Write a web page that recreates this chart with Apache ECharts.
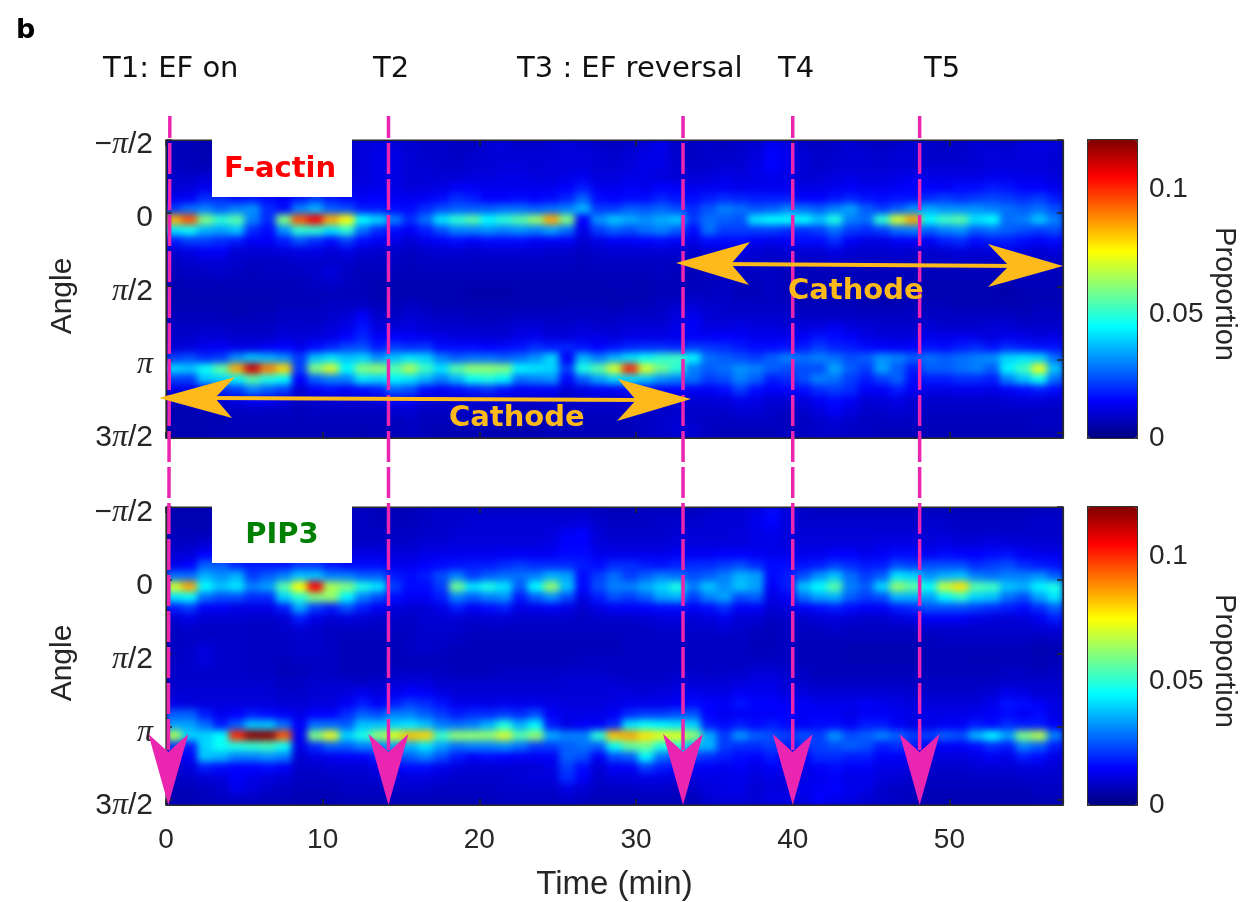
<!DOCTYPE html>
<html><head><meta charset="utf-8">
<style>
html,body{margin:0;padding:0;background:#fff}
#chart{width:1244px;height:902px}
#chart canvas:first-of-type{filter:blur(3.5px);clip-path:path('M166 140H1063V438H166Z M166 507H1063V805H166Z')}
</style>
<script src="https://cdn.jsdelivr.net/npm/echarts@6/dist/echarts.min.js"></script>
</head><body><div id="chart"></div>
<script>
// Heatmap values in thousandths of a proportion; rows run top to bottom, one column per ~minute.
const factinRows = [
[7,7,6,6,6,6,7,7,7,7,8,9,11,12,11,10,9,9,8,8,10,11,9,9,10,11,10,9,8,9,11,13,9,8,9,8,9,10,14,12,9,8,9,10,9,8,9,10,9,8,9,10,10,9,11,12,11],
[7,7,6,6,6,7,7,7,8,8,8,9,11,12,12,10,9,9,8,9,10,10,10,10,10,11,11,10,9,10,12,12,9,8,9,9,9,11,15,13,10,9,9,10,10,9,10,10,9,9,9,10,11,10,11,11,10],
[8,7,7,7,7,7,8,8,8,8,8,9,11,12,12,10,10,9,9,10,10,11,11,10,11,11,11,10,10,11,12,12,10,9,9,10,10,12,15,13,10,9,10,10,10,10,10,10,10,10,10,10,11,11,11,11,10],
[9,9,10,10,9,9,9,9,10,10,10,10,11,12,12,10,10,10,10,11,11,12,12,11,11,12,13,11,11,12,12,11,10,10,11,12,11,12,13,12,10,10,11,12,11,11,12,13,12,12,12,12,13,13,12,12,11],
[10,11,13,13,12,11,11,12,12,13,13,12,12,13,12,11,11,12,14,14,13,13,13,13,13,15,18,13,13,14,13,15,14,13,13,14,13,13,13,13,12,12,13,14,13,13,14,15,15,14,16,16,18,17,15,15,13],
[13,14,20,20,17,18,16,14,18,22,18,16,14,15,14,13,14,16,20,18,15,15,16,15,16,19,26,16,15,16,16,19,17,16,18,20,19,18,18,18,15,15,17,19,17,16,17,17,20,22,20,22,23,22,20,22,18],
[22,28,30,26,30,32,20,16,30,36,26,24,18,18,16,16,20,24,26,26,26,28,28,26,28,30,36,22,22,26,25,27,24,20,25,30,28,25,26,30,28,26,30,34,26,22,26,32,35,32,32,32,30,28,26,28,24],
[85,95,60,50,55,30,20,60,95,105,85,75,45,40,30,20,28,42,50,55,45,50,55,62,85,60,15,32,38,35,32,35,38,22,28,26,25,42,45,45,45,38,48,30,28,50,70,85,45,52,55,42,45,28,30,38,30],
[42,46,36,34,38,20,16,32,50,50,42,50,28,20,16,14,18,24,30,30,32,30,32,30,34,28,12,22,26,24,28,30,26,16,28,22,22,22,22,20,20,22,28,22,20,22,28,30,26,30,32,26,28,26,24,22,24],
[18,22,22,20,18,14,14,18,24,20,16,22,16,14,12,10,13,14,16,14,16,16,16,14,14,14,10,12,14,14,15,16,14,12,16,16,16,14,13,14,16,16,20,14,12,12,14,14,14,18,20,16,18,18,16,14,16],
[10,12,14,14,10,10,10,11,12,12,10,12,10,9,9,8,9,10,10,9,10,10,10,10,9,9,8,9,10,10,10,10,10,9,10,11,12,10,9,10,10,10,12,10,9,9,10,9,9,10,11,10,11,12,11,10,11],
[8,9,10,10,9,8,8,8,9,9,9,9,8,8,8,7,8,8,8,8,8,8,8,8,8,8,7,8,8,8,8,8,8,8,8,9,9,9,8,8,8,8,9,8,8,8,8,8,8,8,8,8,8,9,9,8,8],
[7,8,8,9,8,7,8,8,8,9,11,8,7,7,7,7,7,7,7,7,7,7,7,7,7,7,7,7,7,7,7,8,7,7,8,8,8,8,8,7,7,7,7,7,7,7,7,7,7,7,7,7,7,7,8,8,7],
[6,7,7,7,7,7,7,7,7,8,9,8,7,6,6,6,6,6,6,6,6,6,6,6,6,6,6,6,7,7,6,7,7,7,7,8,7,7,8,7,7,6,6,6,6,6,6,6,6,6,6,6,6,6,7,7,7],
[6,6,6,6,6,6,6,7,7,7,7,7,7,6,6,6,6,6,6,5,5,5,6,6,6,6,6,6,6,6,6,7,7,8,8,8,7,7,8,7,7,7,7,6,6,6,6,6,6,6,6,6,6,5,6,6,6],
[6,6,6,6,6,6,6,7,7,7,8,8,8,7,7,8,7,6,6,6,6,6,6,6,6,7,7,7,6,7,7,8,9,10,9,9,8,8,8,8,7,7,7,7,6,6,6,7,7,7,6,6,6,6,6,7,7],
[7,7,7,7,6,7,7,8,8,8,9,10,14,9,8,10,9,8,8,7,7,7,8,8,8,8,8,8,8,9,8,9,11,13,10,9,9,9,9,9,8,8,8,8,8,8,8,8,8,8,8,8,8,8,7,8,8],
[8,8,8,8,8,8,8,9,9,9,10,12,17,11,10,11,10,9,9,9,8,9,10,10,9,9,10,9,9,10,10,10,12,14,11,11,12,11,11,10,11,11,13,11,10,9,9,9,10,9,9,9,10,10,9,9,9],
[9,9,10,10,9,9,9,11,10,11,12,15,19,14,15,14,13,12,11,11,10,10,12,13,11,11,12,12,11,12,12,12,13,14,14,15,14,13,13,13,14,17,16,14,12,11,11,11,13,12,13,12,11,13,12,11,12],
[10,11,13,14,12,12,14,15,13,16,19,23,24,18,22,20,21,16,16,16,15,16,17,20,18,19,17,15,17,19,20,20,19,22,21,20,18,16,16,17,18,22,19,18,16,15,14,15,17,16,18,20,17,20,18,17,17],
[22,24,20,22,32,38,36,32,22,38,42,38,40,32,38,42,40,30,26,28,28,26,28,32,40,14,36,30,36,42,46,50,52,44,28,26,24,22,26,30,28,30,28,24,26,32,30,26,28,26,28,30,32,40,42,40,28],
[40,38,46,56,85,110,90,80,22,60,70,45,60,62,55,65,52,42,55,62,62,60,44,42,40,22,48,55,70,100,70,58,50,30,26,28,32,30,26,24,24,24,34,26,22,34,26,18,26,26,28,30,26,44,52,72,38],
[22,22,38,40,44,55,48,45,15,26,30,30,42,40,44,42,36,30,36,46,48,44,28,30,32,16,26,34,40,42,38,32,30,28,22,24,30,26,18,20,24,30,28,22,18,22,26,16,18,18,20,20,18,30,38,46,28],
[12,12,16,20,22,30,26,22,10,14,16,14,16,18,26,24,16,14,16,18,20,16,14,14,14,10,12,14,14,16,16,14,15,14,14,16,22,16,14,15,16,20,22,20,14,14,18,14,12,12,13,13,12,14,16,18,16],
[8,8,9,10,12,14,13,11,8,9,10,10,10,11,14,14,10,9,10,10,10,10,9,9,9,8,9,9,9,10,9,9,10,10,10,11,13,12,10,10,11,14,16,14,10,11,12,10,9,9,9,9,9,10,11,11,10],
[6,6,7,8,8,8,8,8,7,8,8,8,8,8,9,10,8,8,8,8,8,8,7,7,8,7,8,8,8,8,8,9,9,9,9,9,10,10,9,8,9,11,14,11,9,9,10,9,8,8,8,8,8,8,8,8,8],
[6,6,6,6,7,7,7,7,7,7,7,7,7,7,7,8,7,7,7,7,7,6,6,6,7,7,7,7,7,7,8,9,10,9,8,8,8,8,8,7,8,9,10,9,8,8,8,8,7,7,7,7,7,7,7,8,8],
[6,6,6,7,7,7,7,7,7,7,7,7,6,7,7,8,7,6,6,6,6,6,6,6,7,7,7,7,7,7,8,9,10,10,8,7,7,7,7,8,8,9,9,8,8,7,7,7,7,7,7,7,7,7,7,7,7]
];
const pip3Rows = [
[6,6,6,7,7,7,8,8,7,7,8,8,8,7,7,7,8,9,9,9,9,9,9,9,9,9,9,8,7,7,8,8,8,8,9,10,10,12,16,11,9,8,8,8,8,8,8,8,8,8,7,7,7,7,7,8,8],
[6,6,6,7,7,8,8,8,8,8,8,8,8,7,7,7,8,9,9,10,10,10,10,10,10,10,11,9,8,8,8,9,9,9,10,10,10,13,15,11,9,9,9,9,9,9,9,9,9,9,8,8,8,8,8,9,9],
[7,7,7,8,9,9,9,9,9,9,9,8,8,8,8,8,9,9,10,10,10,10,10,10,11,14,15,10,9,9,9,9,10,10,10,10,11,12,13,11,10,10,10,10,10,10,10,10,10,10,9,9,9,9,9,9,9],
[8,8,10,10,10,10,10,10,10,10,10,9,9,9,9,9,10,10,11,11,11,11,11,11,12,15,15,11,10,10,10,10,11,11,11,11,11,12,12,11,11,11,11,11,11,12,12,12,11,12,11,11,12,11,11,10,10],
[10,11,15,15,13,12,12,13,14,15,13,12,12,12,11,11,12,13,13,13,13,14,14,14,14,16,16,13,13,13,13,13,14,14,14,15,15,14,13,13,13,13,15,15,13,14,16,16,14,16,15,15,16,17,14,13,13],
[13,15,26,26,20,18,18,18,22,22,18,16,16,16,13,13,15,16,17,18,18,20,22,20,20,20,18,16,20,20,18,17,19,20,20,22,24,20,16,16,17,18,22,20,18,18,24,22,24,24,24,20,22,24,20,18,17],
[28,28,36,32,36,22,26,30,38,38,30,30,26,26,18,16,18,24,30,22,26,28,28,30,36,34,16,22,28,22,26,30,28,24,26,30,36,34,16,18,24,32,38,28,22,26,42,40,32,36,38,30,28,30,30,32,26],
[70,85,45,38,42,30,34,55,75,105,65,60,48,42,22,16,16,22,58,42,48,42,26,45,62,38,16,24,30,30,35,40,48,30,38,32,38,34,14,18,38,45,55,30,26,40,62,56,46,68,78,55,52,38,36,44,48],
[42,45,28,24,24,20,20,40,50,60,62,44,30,24,16,14,14,18,30,26,30,32,18,26,32,24,12,18,24,22,26,34,36,22,30,34,24,26,12,14,28,34,36,26,22,24,36,36,34,44,50,40,38,28,24,34,42],
[18,22,14,14,12,12,12,18,34,22,18,24,18,14,11,10,10,12,18,14,16,18,12,13,14,12,9,12,14,14,15,16,16,14,16,20,14,14,10,11,14,16,18,16,14,14,18,20,24,24,24,22,20,18,16,20,26],
[10,12,10,10,10,9,9,10,18,12,10,11,10,9,9,8,10,10,10,9,10,10,9,9,9,9,8,9,9,9,10,11,11,10,11,13,10,10,8,9,9,10,11,10,9,9,11,12,14,14,14,12,11,10,11,13,18],
[8,9,8,8,8,8,8,9,10,9,8,8,8,8,8,8,9,9,9,8,8,8,8,8,8,8,8,8,8,8,8,9,9,9,9,10,9,8,7,8,8,8,9,8,8,8,8,8,9,9,9,9,9,9,9,10,11],
[8,8,9,9,9,8,8,8,9,9,8,7,7,7,7,8,9,9,8,7,7,7,7,7,7,7,7,7,7,8,8,8,8,8,8,8,8,7,7,8,7,7,7,7,7,7,7,7,7,8,8,8,8,8,8,7,8],
[8,9,11,9,9,8,8,8,9,9,8,7,7,7,7,8,9,8,7,7,7,7,7,7,7,7,7,7,7,8,8,8,8,8,8,8,8,7,7,8,7,7,7,6,6,6,6,6,7,7,7,7,7,7,7,6,6],
[8,9,11,9,9,8,8,7,8,8,8,7,7,7,7,7,7,7,7,7,7,7,7,7,7,7,8,8,8,8,8,8,8,8,8,8,8,8,8,8,7,7,7,6,6,6,6,6,7,7,7,6,6,7,7,6,7],
[9,9,9,9,9,8,8,7,7,8,8,7,7,7,8,8,8,8,7,7,7,8,8,8,8,9,9,9,8,8,8,8,9,9,8,9,9,10,10,9,8,7,7,7,7,7,7,7,7,7,7,7,7,8,8,7,8],
[9,9,9,9,9,9,9,8,8,9,9,9,8,9,10,11,11,9,9,9,9,9,9,9,9,10,10,10,10,9,9,9,10,10,10,10,11,12,12,10,9,8,8,8,8,8,8,8,8,8,8,8,8,9,9,9,9],
[10,10,10,10,10,10,10,9,9,10,10,11,13,11,13,15,14,12,10,10,10,10,10,10,10,10,10,10,11,11,10,11,12,13,12,12,14,13,13,11,11,10,10,10,10,10,10,9,9,9,9,9,10,13,12,10,10],
[12,11,11,11,11,11,11,10,10,11,11,14,18,14,18,22,20,17,13,13,12,13,13,13,12,11,11,11,12,13,13,13,14,16,15,14,17,15,15,14,14,13,13,13,14,13,12,11,11,11,11,11,13,17,16,14,12],
[26,26,18,13,15,18,16,14,12,15,15,20,26,24,30,30,26,22,18,20,20,22,20,24,14,12,12,12,14,20,22,22,24,25,15,13,14,14,14,15,14,14,14,12,14,14,13,12,12,12,12,13,14,16,14,16,12],
[34,34,28,18,26,38,38,28,14,28,28,26,38,38,40,42,38,30,28,30,36,48,36,44,18,12,14,14,20,42,46,44,42,40,18,16,18,16,18,16,14,16,16,14,18,18,14,12,12,14,14,18,16,20,18,18,14],
[65,40,40,45,100,118,118,95,14,60,72,40,48,62,72,82,80,52,62,62,62,70,55,62,35,30,30,50,82,85,78,72,72,62,35,22,32,26,24,22,24,22,32,24,26,30,26,22,22,26,24,36,44,34,60,66,30],
[22,18,40,46,48,50,52,46,12,20,26,26,30,30,34,36,42,34,28,30,30,32,28,22,22,26,28,26,46,56,58,48,50,36,36,22,20,20,22,18,20,22,24,26,24,18,20,18,14,14,14,16,20,18,30,26,18],
[12,14,38,36,30,30,32,30,10,12,13,14,14,18,22,26,30,24,18,14,16,15,14,14,14,26,24,14,24,26,44,28,24,22,20,18,16,15,18,14,15,20,20,18,18,14,14,14,11,11,11,12,14,12,18,16,12],
[9,11,18,16,15,15,16,14,9,9,10,10,10,12,14,16,16,13,11,10,10,10,10,10,12,22,16,10,14,14,22,18,16,14,14,13,14,12,14,12,13,14,16,14,14,12,12,11,9,9,9,10,10,10,11,11,10],
[8,9,10,11,14,12,11,10,8,8,8,9,9,10,11,11,11,10,9,9,9,9,10,11,11,20,14,9,11,11,12,12,11,11,12,12,13,11,12,11,12,13,14,12,13,11,10,9,8,8,8,8,8,8,9,9,9],
[7,7,8,9,13,11,9,8,7,7,7,8,8,8,9,9,9,8,8,8,8,9,9,9,9,12,10,8,8,8,9,9,8,9,11,12,12,10,11,11,13,14,15,13,12,9,8,8,7,7,7,7,7,7,7,8,8],
[6,6,7,8,8,8,7,7,6,6,6,7,7,7,7,7,7,7,7,7,7,8,8,8,8,9,8,7,7,7,7,7,7,7,10,11,11,10,12,12,12,15,13,12,10,9,8,7,6,6,6,6,6,6,6,7,7]
];
const timeTicks = [0,10,20,30,40,50];
const angleTicks = [-1,0,1,2,3];                 // multiples of pi/2
const angleTickLabels = ['{t|\u2212}{p|\u03c0}{t|/2}','{t|0}','{p|\u03c0}{t|/2}','{p|\u03c0}','{t|3}{p|\u03c0}{t|/2}'];
const proportionTicks = [0,0.05,0.1];
const markerTimes = [0.15,14.2,33,40,48.1];
const markerLabels = ['T1: EF on','T2','T3 : EF reversal','T4','T5'];
const markerLabelX = [103,373,517,778,924];
const jet = ['#000080','#0000ff','#0080ff','#00ffff','#80ff80','#ffff00','#ff8000','#ff0000','#800000'];

const PLOT = {left:166,width:897,height:298};
const TOPS = [140,507];
const timeMax = 57.25, angleMax = 3.07, ink = '#262626';
const cols = factinRows[0].map((_, i) => String(i));
const rowsIdx = factinRows.map((_, i) => String(i));
const cells = rows => rows.flatMap((r, y) => r.map((v, x) => [x, y, v / 1000]));

const grids = [], xAxes = [], yAxes = [], series = [], visualMaps = [];
[factinRows, pip3Rows].forEach((rows, p) => {
  const top = TOPS[p];
  const heat = grids.length;
  grids.push({left:PLOT.left,top,width:PLOT.width,height:PLOT.height,zlevel:0});
  xAxes.push({type:'category',gridIndex:heat,data:cols,show:false,zlevel:0});
  yAxes.push({type:'category',gridIndex:heat,data:rowsIdx,inverse:true,show:false,zlevel:0});
  const sIdx = series.length;
  series.push({type:'heatmap',xAxisIndex:xAxes.length-1,yAxisIndex:yAxes.length-1,data:cells(rows),
    zlevel:0,z:2,progressive:0,silent:true,itemStyle:{borderWidth:0},emphasis:{disabled:true}});

  // value grid: the visible frame, ticks and labels
  const g = grids.length;
  grids.push({left:PLOT.left,top,width:PLOT.width,height:PLOT.height,show:true,borderColor:'#2b2b2b',borderWidth:1.2,backgroundColor:'transparent',zlevel:1});
  const xBase = {type:'value',gridIndex:g,min:0,max:timeMax,zlevel:1,splitLine:{show:false},
    axisLine:{show:true,onZero:false,lineStyle:{color:'#2b2b2b',width:1.2}},
    axisTick:{show:true,inside:true,length:6,customValues:timeTicks,lineStyle:{color:ink,width:1.5}}};
  xAxes.push(Object.assign({},xBase,{position:'bottom',
    name:p===1?'Time (min)':'',nameLocation:'middle',nameGap:63,
    nameTextStyle:{fontFamily:'Liberation Sans',fontSize:33,color:ink},
    axisLabel:{show:p===1,customValues:timeTicks,margin:21,fontFamily:'Liberation Sans',fontSize:28,color:ink}}));
  xAxes.push(Object.assign({},xBase,{position:'top',axisLabel:{show:false}}));
  const yBase = {type:'value',gridIndex:g,min:-1,max:angleMax,inverse:true,zlevel:1,splitLine:{show:false},
    axisLine:{show:true,onZero:false,lineStyle:{color:'#2b2b2b',width:1.2}},
    axisTick:{show:true,inside:true,length:6,customValues:angleTicks,lineStyle:{color:ink,width:1.5}}};
  yAxes.push(Object.assign({},yBase,{position:'left',
    name:'Angle',nameLocation:'middle',nameGap:88,nameRotate:90,
    nameTextStyle:{fontFamily:'Liberation Sans',fontSize:30,color:ink,padding:[0,14,0,0]},
    axisLabel:{show:true,customValues:angleTicks,margin:13,padding:[p?12:10,0,0,0],
      formatter:v=>angleTickLabels[angleTicks.indexOf(Math.round(v))]||'',
      rich:{t:{fontFamily:'Liberation Sans',fontSize:30,color:ink,verticalAlign:'middle'},
            p:{fontFamily:'Liberation Serif',fontStyle:'italic',fontSize:32,color:ink,verticalAlign:'middle'}}}}));
  yAxes.push(Object.assign({},yBase,{position:'right',axisLabel:{show:false}}));

  // colour bar
  const c = grids.length;
  grids.push({left:1088,top,width:49,height:PLOT.height,show:true,borderColor:'#333',borderWidth:2,backgroundColor:'transparent',zlevel:1});
  xAxes.push({type:'value',gridIndex:c,min:0,max:1,show:false,zlevel:1});
  yAxes.push({type:'value',gridIndex:c,min:0,max:0.12,position:'right',zlevel:1,splitLine:{show:false},
    axisLine:{show:true,onZero:false,lineStyle:{color:'#333',width:2}},
    axisTick:{show:true,inside:true,length:4,customValues:proportionTicks,lineStyle:{color:'#333',width:1.5}},
    axisLabel:{show:true,customValues:proportionTicks,margin:12,padding:[9,0,0,0],fontFamily:'Liberation Sans',fontSize:28,color:ink,formatter:v=>String(v)},
    name:'Proportion',nameLocation:'middle',nameGap:72,nameRotate:-90,
    nameTextStyle:{fontFamily:'Liberation Sans',fontSize:29,color:ink,padding:[0,0,0,10]}});
  visualMaps.push({type:'continuous',seriesIndex:sIdx,min:0,max:0.12,dimension:2,left:1088,top,itemWidth:49,itemHeight:PLOT.height,
    padding:0,text:null,calculable:false,hoverLink:false,realtime:false,inRange:{color:jet},zlevel:1,z:1,
    textStyle:{color:'transparent'},showLabel:false});
});

const chart = echarts.init(document.getElementById('chart'),null,{renderer:'canvas'});
chart.setOption({animation:false,backgroundColor:'transparent',tooltip:{show:false},
  grid:grids,xAxis:xAxes,yAxis:yAxes,series,visualMap:visualMaps});

// Annotations, placed from the time axis where they mark a time
const xOf = t => chart.convertToPixel({gridIndex:1},[t,0])[0];
const MAGENTA='#ea26b0', ORANGE='#fdba1a';
const txt=(text,x,y,font,fill,align)=>({type:'text',zlevel:1,z:30,x,y,silent:true,
  style:{text,font,fill,align:align||'left',verticalAlign:'middle'}});
const poly=(points,fill,z)=>({type:'polygon',zlevel:1,z,silent:true,shape:{points},style:{fill}});
const seg=(x1,y1,x2,y2,stroke,width,dash,offset)=>({type:'line',zlevel:1,z:25,silent:true,shape:{x1,y1,x2,y2},
  style:{stroke,lineWidth:width,lineDash:dash||null,lineDashOffset:offset||0}});
const HEAD='29px "DejaVu Sans"', BOLD='bold 29px "DejaVu Sans"';
const gfx=[];
TOPS.forEach(t=>gfx.push({type:'rect',zlevel:0,z:0,silent:true,shape:{x:PLOT.left-12,y:t-12,width:PLOT.width+24,height:PLOT.height+24},style:{fill:'#0000b0'}}));
gfx.push({type:'rect',zlevel:1,z:10,silent:true,shape:{x:212,y:139,width:140,height:58},style:{fill:'#fff'}});
gfx.push({type:'rect',zlevel:1,z:10,silent:true,shape:{x:212,y:506,width:140,height:57},style:{fill:'#fff'}});
gfx.push(txt('F-actin',224,169,BOLD,'#ff0000'));
gfx.push(txt('PIP3',282,535,BOLD,'#008000','center'));
gfx.push(txt('b',16,31,'bold 27px "DejaVu Sans"','#000'));
markerLabels.forEach((s,i)=>gfx.push(txt(s,markerLabelX[i],69,HEAD,'#111')));
markerTimes.forEach((t,i)=>{
  const x=xOf(t), x0=i===0?x+1.5:x;
  gfx.push(seg(x0,116,x,760,MAGENTA,3.5,[31,5],9));
  gfx.push(poly([[x,805],[x-20,734],[x,752],[x+20,734]],MAGENTA,26));
});
// orange double arrows
gfx.push(seg(720,264,1020,266,ORANGE,4));
gfx.push(poly([[676,263],[750,242],[731,264],[749,285]],ORANGE,27));
gfx.push(poly([[1063,266],[988,244],[1009,266],[988,287]],ORANGE,27));
gfx.push(seg(210,398,640,400,ORANGE,4));
gfx.push(poly([[159,398],[235,377],[215,398],[232,418]],ORANGE,27));
gfx.push(poly([[691,399],[618,379],[636,400],[617,421]],ORANGE,27));
gfx.push(txt('Cathode',449,418,BOLD,ORANGE));
gfx.push(txt('Cathode',788,291,BOLD,ORANGE));
chart.setOption({graphic:{elements:gfx}});
</script></body></html>
